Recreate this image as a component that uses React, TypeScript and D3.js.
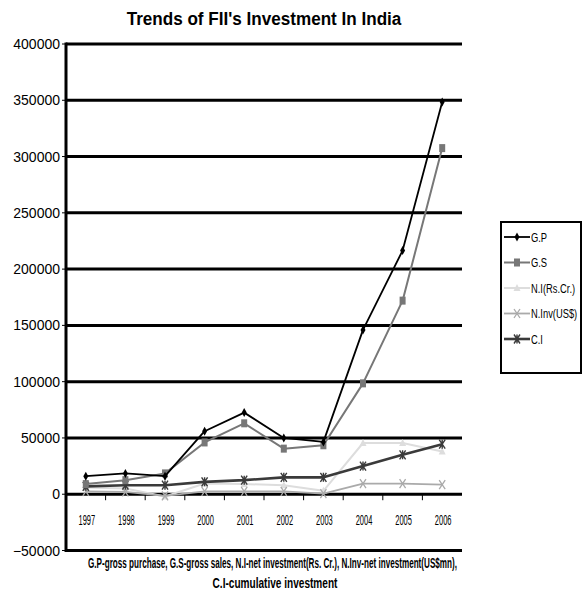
import React from "react";
import * as d3 from "d3";

const years = ["1997", "1998", "1999", "2000", "2001", "2002", "2003", "2004", "2005", "2006"];
const gp = [16000, 18500, 16000, 56000, 72500, 50000, 46500, 146000, 216500, 348500];
const gs = [9000, 12500, 18500, 46000, 63000, 40500, 43500, 98500, 172000, 307500];
const ni = [6000, 5000, -2000, 9500, 9000, 8000, 3000, 45500, 45500, 38000];
const ninv = [2500, 2000, -1500, 2500, 2500, 2500, 500, 9500, 9500, 8500];
const ci = [7000, 8000, 8000, 11000, 12500, 15000, 15000, 25000, 35000, 44500];
const yTicks = [-50000, 0, 50000, 100000, 150000, 200000, 250000, 300000, 350000, 400000];
const seriesNames = ["G.P", "G.S", "N.I(Rs.Cr.)", "N.Inv(US$)", "C.I"];
const title = "Trends of FII's Investment In India";
const caption1 = "G.P-gross purchase, G.S-gross sales, N.I-net investment(Rs. Cr.), N.Inv-net investment(US$mn),";
const caption2 = "C.I-cumulative investment";

const styles = [
  { color: "#000000", width: 1.8, marker: "diamond" },
  { color: "#777777", width: 2, marker: "square" },
  { color: "#dddddd", width: 2, marker: "triangle" },
  { color: "#aaaaaa", width: 1.8, marker: "x" },
  { color: "#3a3a3a", width: 2.6, marker: "star" },
];

function Marker({ type, x, y, color }: { type: string; x: number; y: number; color: string }) {
  if (type === "diamond") {
    return <path d={`M${x},${y - 4.5}L${x + 2.5},${y}L${x},${y + 4.5}L${x - 2.5},${y}Z`} fill={color} />;
  }
  if (type === "square") {
    return <rect x={x - 3} y={y - 4} width={6} height={8} fill={color} />;
  }
  if (type === "triangle") {
    return <path d={`M${x},${y - 4}L${x + 3.5},${y + 3}L${x - 3.5},${y + 3}Z`} fill={color} />;
  }
  if (type === "x") {
    return (
      <path d={`M${x - 3},${y - 4.5}L${x + 3},${y + 4.5}M${x + 3},${y - 4.5}L${x - 3},${y + 4.5}`} stroke={color} strokeWidth={1.3} fill="none" />
    );
  }
  return (
    <path
      d={`M${x - 3},${y - 4.5}L${x + 3},${y + 4.5}M${x + 3},${y - 4.5}L${x - 3},${y + 4.5}M${x},${y - 4.5}L${x},${y + 4.5}`}
      stroke={color}
      strokeWidth={1.4}
      fill="none"
    />
  );
}

// condensed text via horizontal scale
function CText({ x, y, sx, anchor, size, bold, children }: { x: number; y: number; sx: number; anchor?: string; size: number; bold?: boolean; children: string }) {
  return (
    <text
      transform={`translate(${x},${y}) scale(${sx},1)`}
      textAnchor={anchor || "start"}
      fontSize={size}
      fontWeight={bold ? "bold" : "normal"}
    >
      {children}
    </text>
  );
}

export default function App() {
  const W = 587, H = 601;
  const left = 66, right = 462;
  const x = d3.scaleBand<string>().domain(years).range([left, right]);
  const y = d3.scaleLinear().domain([-50000, 400000]).range([550.5, 44]);
  const data = [gp, gs, ni, ninv, ci];
  const line = d3
    .line<number>()
    .x((_, i) => (x(years[i]) as number) + x.bandwidth() / 2)
    .y((d) => y(d));
  const fmt = d3.format("d");
  const font = "'Liberation Sans', Arial, sans-serif";

  return (
    <svg width={W} height={H} style={{ position: "absolute", left: 0, top: 0 }} fontFamily={font}>
      <rect width={W} height={H} fill="#fff" />
      <CText x={264} y={25} sx={0.9} anchor="middle" size={19} bold>
        {title}
      </CText>
      {/* gridlines */}
      {yTicks.map((t) => (
        <g key={t}>
          <line x1={left} x2={right} y1={y(t)} y2={y(t)} stroke="#000" strokeWidth={3} />
          <line x1={left - 4} x2={left} y1={y(t)} y2={y(t)} stroke="#000" strokeWidth={1} />
          <text x={60} y={y(t) + 5} textAnchor="end" fontSize={14}>
            {fmt(t)}
          </text>
        </g>
      ))}
      {/* x ticks */}
      {years.slice(1).map((yr) => (
        <line key={yr} x1={x(yr) as number} x2={x(yr) as number} y1={y(0)} y2={y(0) + 6} stroke="#000" strokeWidth={1} />
      ))}
      <line x1={left} x2={left} y1={y(400000) - 1.5} y2={y(-50000) + 1.5} stroke="#000" strokeWidth={3} />
      {years.map((yr) => (
        <CText key={yr} x={(x(yr) as number) + x.bandwidth() / 2 + 1} y={525} sx={0.5} anchor="middle" size={15}>
          {yr}
        </CText>
      ))}
      {/* series */}
      {[2, 3, 4, 1, 0].map((si) => (
        <g key={si}>
          <path d={line(data[si]) || ""} fill="none" stroke={styles[si].color} strokeWidth={styles[si].width} strokeLinejoin="round" />
          {data[si].map((v, i) => (
            <Marker key={i} type={styles[si].marker} x={(x(years[i]) as number) + x.bandwidth() / 2} y={y(v)} color={styles[si].color} />
          ))}
        </g>
      ))}
      {/* caption */}
      <CText x={272.5} y={568} sx={0.58} anchor="middle" size={14} bold>
        {caption1}
      </CText>
      <CText x={275} y={588} sx={0.72} anchor="middle" size={14} bold>
        {caption2}
      </CText>
      {/* legend */}
      <rect x={501} y={222} width={80} height={151} fill="#fff" stroke="#000" strokeWidth={2} />
      {seriesNames.map((n, i) => {
        const ly = 237 + i * 25.5;
        const st = styles[i];
        return (
          <g key={n}>
            <line x1={504} x2={530} y1={ly} y2={ly} stroke={st.color} strokeWidth={st.width} />
            <Marker type={st.marker} x={517} y={ly} color={st.color} />
            <CText x={531} y={ly + 4.5} sx={0.72} size={13}>
              {n}
            </CText>
          </g>
        );
      })}
    </svg>
  );
}
